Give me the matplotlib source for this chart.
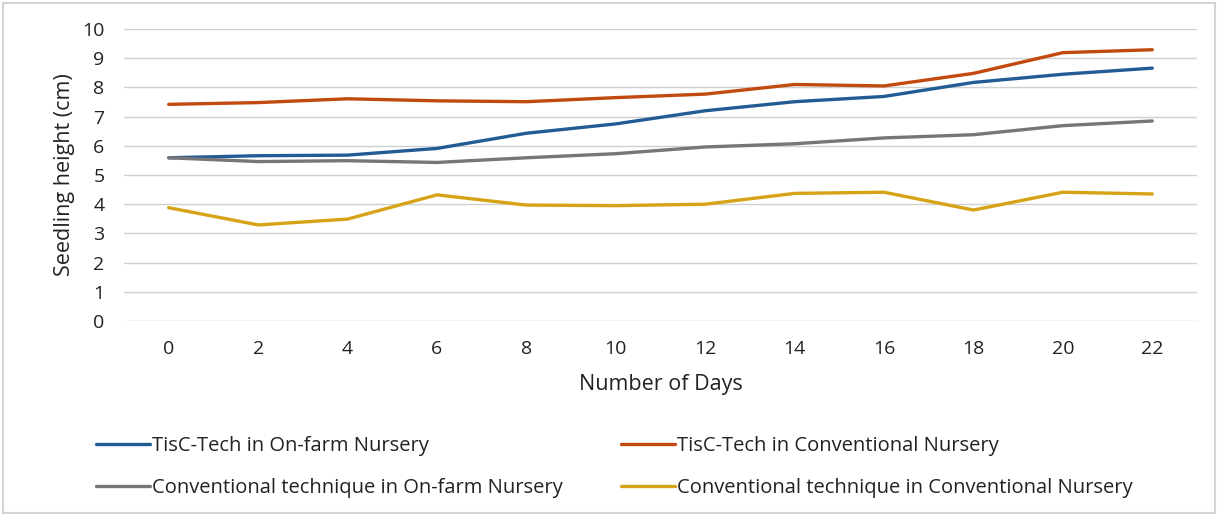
import matplotlib.pyplot as plt
from matplotlib.patches import Rectangle

plt.rcParams['font.family'] = ['Open Sans', 'DejaVu Sans']

# Data
days = [0, 2, 4, 6, 8, 10, 12, 14, 16, 18, 20, 22]
tisc_onfarm = [5.59, 5.66, 5.68, 5.91, 6.43, 6.75, 7.20, 7.51, 7.69, 8.17, 8.45, 8.66]
tisc_conv = [7.42, 7.48, 7.61, 7.54, 7.51, 7.65, 7.77, 8.10, 8.05, 8.48, 9.19, 9.29]
conv_onfarm = [5.59, 5.46, 5.49, 5.43, 5.59, 5.73, 5.96, 6.07, 6.27, 6.38, 6.69, 6.85]
conv_conv = [3.88, 3.29, 3.49, 4.32, 3.97, 3.95, 4.00, 4.37, 4.41, 3.80, 4.41, 4.35]

labels = ['TisC-Tech in On-farm Nursery',
          'TisC-Tech in Conventional Nursery',
          'Conventional technique in On-farm Nursery',
          'Conventional technique in Conventional Nursery']
colors = ['#235C95', '#C24A10', '#767676', '#D6A316']

fig = plt.figure(figsize=(12.18, 5.16), dpi=100)
ax = fig.add_axes([124 / 1218, 1 - 321 / 516, (1197 - 124) / 1218, (321 - 29) / 516])

# category axis: points at bin centres
pos = list(range(len(days)))
lines = []
for vals, lab, c in zip([tisc_onfarm, tisc_conv, conv_onfarm, conv_conv], labels, colors):
    ln, = ax.plot(pos, vals, color=c, lw=2.4, label=lab, solid_capstyle='round')
    lines.append(ln)

ax.set_xlim(-0.5, len(days) - 0.5)
ax.set_ylim(0, 10)
ax.set_yticks(range(0, 11))
ax.set_xticks(pos)
ax.set_xticklabels([str(d) for d in days])
ax.grid(axis='y', color='#D0D0D0', lw=1)
ax.set_axisbelow(True)
for s in ax.spines.values():
    s.set_visible(False)
ax.tick_params(length=0, labelsize=14, colors='#222222')
ax.tick_params(axis='x', pad=14)
ax.tick_params(axis='y', pad=14)

ax.set_xlabel('Number of Days', fontsize=15.5, color='#222222', labelpad=11)
ax.set_ylabel('Seedling height (cm)', fontsize=15.5, color='#222222', labelpad=5)

# two legend columns
leg_kw = dict(frameon=False, fontsize=14.5, handlelength=2.7, handletextpad=0.1,
              labelspacing=1.1, loc='upper left', borderaxespad=0, borderpad=0)
leg1 = fig.legend([lines[0], lines[2]], [labels[0], labels[2]],
                  bbox_to_anchor=(96 / 1218, 1 - 436 / 516), **leg_kw)
leg2 = fig.legend([lines[1], lines[3]], [labels[1], labels[3]],
                  bbox_to_anchor=(621 / 1218, 1 - 436 / 516), **leg_kw)
for lg in (leg1, leg2):
    for t in lg.get_texts():
        t.set_color('#222222')

# outer chart border
fig.patches.append(Rectangle((3 / 1218, 3 / 516), 1 - 6 / 1218, 1 - 6 / 516,
                             transform=fig.transFigure, fill=False,
                             edgecolor='#D4D4D4', lw=1.5))

fig.savefig('out.png', dpi=100)
